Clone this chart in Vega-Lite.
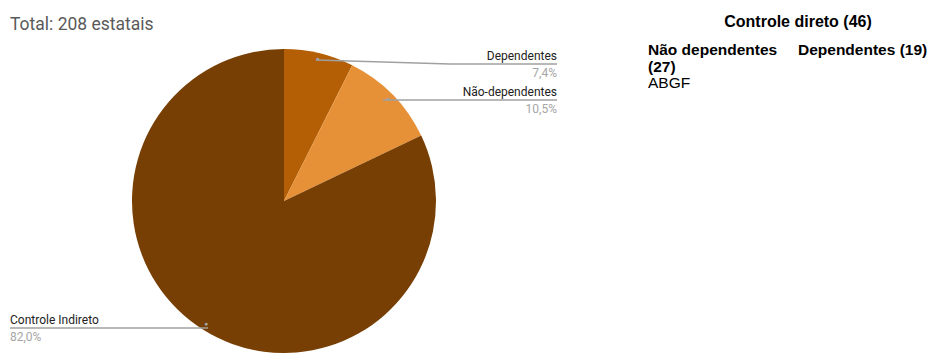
{
  "$schema": "https://vega.github.io/schema/vega-lite/v6.json",
  "width": 931,
  "height": 353,
  "autosize": {"type": "none"},
  "padding": 0,
  "background": "white",
  "config": {"view": {"stroke": null}},
  "datasets": {
    "fatias": [
      {"categoria": "Dependentes", "valor": 7.4, "rotulo": "7,4%", "ordem": 1},
      {"categoria": "Não-dependentes", "valor": 10.5, "rotulo": "10,5%", "ordem": 2},
      {"categoria": "Controle Indireto", "valor": 82.0, "rotulo": "82,0%", "ordem": 3}
    ]
  },
  "data": {"name": "fatias"},
  "layer": [
    {
      "mark": {"type": "arc", "outerRadius": 152},
      "encoding": {
        "theta": {"field": "valor", "type": "quantitative", "stack": true},
        "order": {"field": "ordem", "type": "quantitative"},
        "color": {
          "field": "categoria",
          "type": "nominal",
          "scale": {
            "domain": ["Dependentes", "Não-dependentes", "Controle Indireto"],
            "range": ["#b45f06", "#e69138", "#783f04"]
          },
          "legend": null
        },
        "x": {"value": 284},
        "y": {"value": 201}
      }
    },
    {
      "mark": {"type": "text", "radius": 146, "text": "●", "fontSize": 7, "color": "#a0a0a0", "align": "center", "baseline": "middle"},
      "encoding": {
        "theta": {"field": "valor", "type": "quantitative", "stack": true},
        "order": {"field": "ordem", "type": "quantitative"},
        "x": {"value": 284},
        "y": {"value": 201}
      }
    },
    {
      "transform": [{"filter": "datum.categoria == 'Dependentes'"}],
      "mark": {"type": "rule", "color": "#a0a0a0", "strokeWidth": 1.3},
      "encoding": {"x": {"value": 316}, "y": {"value": 60}, "x2": {"value": 450}, "y2": {"value": 64}}
    },
    {
      "transform": [{"filter": "datum.categoria == 'Dependentes'"}],
      "mark": {"type": "rule", "color": "#a0a0a0", "strokeWidth": 1.3},
      "encoding": {"x": {"value": 450}, "y": {"value": 64}, "x2": {"value": 557}, "y2": {"value": 64}}
    },
    {
      "transform": [{"filter": "datum.categoria == 'Não-dependentes'"}],
      "mark": {"type": "rule", "color": "#a0a0a0", "strokeWidth": 1.3},
      "encoding": {"x": {"value": 383}, "y": {"value": 100}, "x2": {"value": 557}, "y2": {"value": 100}}
    },
    {
      "transform": [{"filter": "datum.categoria == 'Controle Indireto'"}],
      "mark": {"type": "rule", "color": "#a0a0a0", "strokeWidth": 1.3},
      "encoding": {"x": {"value": 10}, "y": {"value": 328}, "x2": {"value": 208}, "y2": {"value": 328}}
    },
    {
      "transform": [{"filter": "datum.categoria == 'Dependentes'"}],
      "mark": {"type": "text", "font": "Roboto", "fontSize": 12, "color": "#222222", "align": "right", "baseline": "alphabetic"},
      "encoding": {"text": {"field": "categoria"}, "x": {"value": 557}, "y": {"value": 60}}
    },
    {
      "transform": [{"filter": "datum.categoria == 'Dependentes'"}],
      "mark": {"type": "text", "font": "Roboto", "fontSize": 12, "color": "#a6a6a6", "align": "right", "baseline": "alphabetic"},
      "encoding": {"text": {"field": "rotulo"}, "x": {"value": 557}, "y": {"value": 77}}
    },
    {
      "transform": [{"filter": "datum.categoria == 'Não-dependentes'"}],
      "mark": {"type": "text", "font": "Roboto", "fontSize": 12, "color": "#222222", "align": "right", "baseline": "alphabetic"},
      "encoding": {"text": {"field": "categoria"}, "x": {"value": 557}, "y": {"value": 96}}
    },
    {
      "transform": [{"filter": "datum.categoria == 'Não-dependentes'"}],
      "mark": {"type": "text", "font": "Roboto", "fontSize": 12, "color": "#a6a6a6", "align": "right", "baseline": "alphabetic"},
      "encoding": {"text": {"field": "rotulo"}, "x": {"value": 557}, "y": {"value": 113}}
    },
    {
      "transform": [{"filter": "datum.categoria == 'Controle Indireto'"}],
      "mark": {"type": "text", "font": "Roboto", "fontSize": 12, "color": "#222222", "align": "left", "baseline": "alphabetic"},
      "encoding": {"text": {"field": "categoria"}, "x": {"value": 10}, "y": {"value": 324}}
    },
    {
      "transform": [{"filter": "datum.categoria == 'Controle Indireto'"}],
      "mark": {"type": "text", "font": "Roboto", "fontSize": 12, "color": "#a6a6a6", "align": "left", "baseline": "alphabetic"},
      "encoding": {"text": {"field": "rotulo"}, "x": {"value": 10}, "y": {"value": 341}}
    },
    {
      "data": {"values": [{"texto": "Total: 208 estatais"}]},
      "mark": {"type": "text", "font": "Roboto", "fontSize": 17.5, "color": "#5a5a5a", "align": "left", "baseline": "alphabetic"},
      "encoding": {"text": {"field": "texto"}, "x": {"value": 10}, "y": {"value": 30}}
    },
    {
      "data": {"values": [{"texto": "Controle direto (46)"}]},
      "mark": {"type": "text", "font": "Liberation Sans", "fontSize": 16, "fontWeight": "bold", "color": "#000000", "align": "center", "baseline": "alphabetic"},
      "encoding": {"text": {"field": "texto"}, "x": {"value": 798}, "y": {"value": 27}}
    },
    {
      "data": {"values": [{"texto": ["Não dependentes", "(27)"]}]},
      "mark": {"type": "text", "font": "Liberation Sans", "fontSize": 15.5, "fontWeight": "bold", "color": "#000000", "align": "left", "baseline": "alphabetic", "lineHeight": 17},
      "encoding": {"text": {"field": "texto"}, "x": {"value": 648}, "y": {"value": 55}}
    },
    {
      "data": {"values": [{"texto": "ABGF"}]},
      "mark": {"type": "text", "font": "Liberation Sans", "fontSize": 15.5, "color": "#000000", "align": "left", "baseline": "alphabetic"},
      "encoding": {"text": {"field": "texto"}, "x": {"value": 648}, "y": {"value": 88}}
    },
    {
      "data": {"values": [{"texto": "Dependentes (19)"}]},
      "mark": {"type": "text", "font": "Liberation Sans", "fontSize": 15.5, "fontWeight": "bold", "color": "#000000", "align": "left", "baseline": "alphabetic"},
      "encoding": {"text": {"field": "texto"}, "x": {"value": 798}, "y": {"value": 55}}
    }
  ]
}
